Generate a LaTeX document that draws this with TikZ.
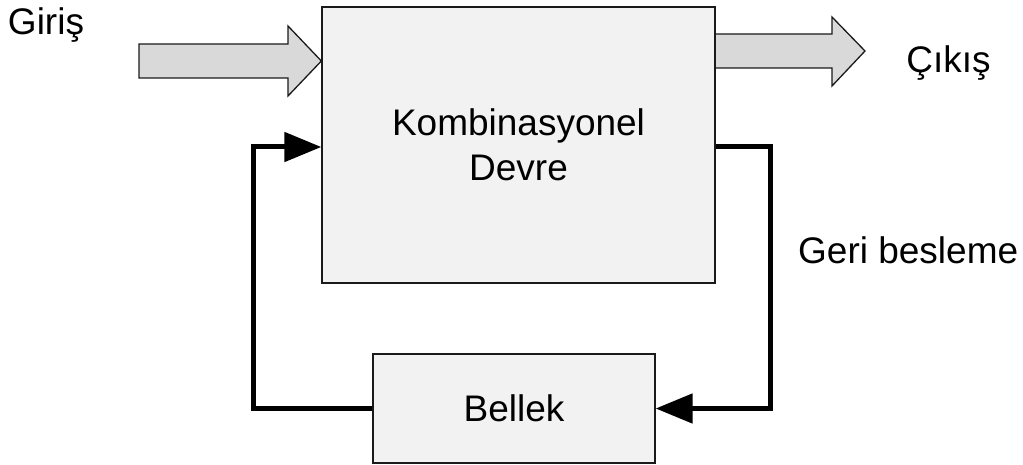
\documentclass[tikz,border=0pt]{standalone}
\usepackage{fontspec}
\setmainfont{Liberation Sans}
\usetikzlibrary{arrows.meta}
\definecolor{boxfill}{HTML}{F2F2F2}
\definecolor{arrowfill}{HTML}{D9D9D9}
\definecolor{edge}{HTML}{1A1A1A}
\tikzset{
  block/.style={draw=edge, line width=1.3pt, fill=boxfill, inner sep=0pt,
    align=center, font=\fontsize{37}{45}\selectfont},
  label/.style={inner sep=0pt, font=\fontsize{37}{45}\selectfont},
  bigarrow/.style={draw=edge, line width=1.3pt, fill=arrowfill, line join=miter},
  feedback/.style={line width=5pt, line join=miter,
    -{Triangle[length=37pt,width=29pt]}}
}
\begin{document}
\begin{tikzpicture}[x=1pt,y=-1pt]
  \useasboundingbox (0,0) rectangle (1023,465);

  % combinational block and memory
  \node[block, minimum width=393pt, minimum height=276pt] (comb) at (518.5,145)
    {Kombinasyonel\\Devre};
  \node[block, minimum width=282pt, minimum height=109pt] (mem) at (514,408.5)
    {Bellek};

  % input and output block arrows
  \coordinate (inTip) at (comb.west |- 0,61);
  \draw[bigarrow] (139,44) -- (288,44) -- (288,26) -- (inTip)
    -- (288,96) -- (288,78) -- (139,78) -- cycle;
  \coordinate (outTop) at (comb.east |- 0,34);
  \coordinate (outBot) at (comb.east |- 0,68);
  \draw[bigarrow] (outTop) -- (832,34) -- (832,17) -- (865,51)
    -- (832,86) -- (832,68) -- (outBot);
  \draw[draw=edge, line width=1.3pt] (comb.north east) -- (comb.south east);

  % feedback loop
  \coordinate (combR) at (comb.east |- 0,147);
  \coordinate (combL) at (comb.west |- 0,147);
  \draw[feedback] (combR) -- (770,147) |- (mem.east);
  \draw[feedback] (mem.west) -| (253,147) -- (combL);

  % labels
  \node[label, anchor=base] (in) at (46,35) {Giriş};
  \node[label, anchor=base] (out) at (948.5,73) {Çıkış};
  \node[label, anchor=base west] (fb) at (798,263) {Geri besleme};
\end{tikzpicture}
\end{document}
